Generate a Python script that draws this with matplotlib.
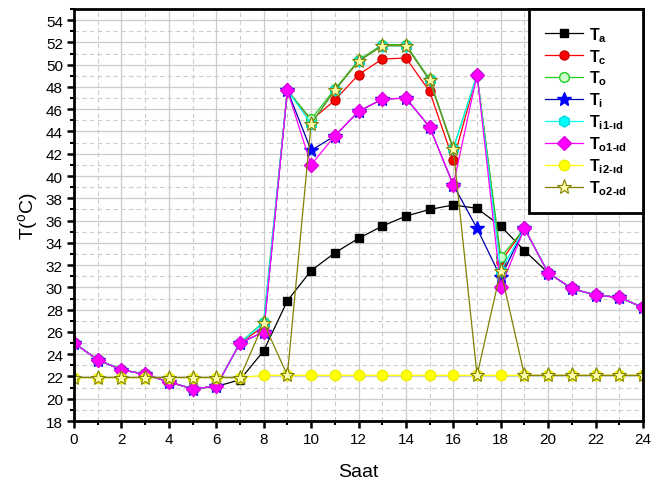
import matplotlib
matplotlib.use("Agg")
import matplotlib.pyplot as plt
from matplotlib.ticker import MultipleLocator

plt.rcParams['font.family'] = ['Liberation Sans', 'DejaVu Sans']
plt.rcParams['mathtext.default'] = 'regular'

hours = list(range(25))

T_a   = [25.0, 23.5, 22.6, 22.2, 21.5, 20.9, 21.1, 21.7, 24.3, 28.8, 31.5, 33.1, 34.4, 35.5, 36.4, 37.0, 37.4, 37.1, 35.5, 33.3, 31.3, 29.9, 29.3, 29.1, 28.2]
T_c   = [25.0, 23.5, 22.6, 22.2, 21.5, 20.9, 21.1, 25.0, 26.5, 47.7, 45.0, 46.8, 49.1, 50.5, 50.6, 47.6, 41.4, 49.1, 32.3, 35.3, 31.3, 29.9, 29.3, 29.1, 28.2]
T_o   = [25.0, 23.5, 22.6, 22.2, 21.5, 20.9, 21.1, 25.0, 26.9, 47.7, 45.1, 47.8, 50.4, 51.8, 51.8, 48.7, 42.5, 49.1, 32.7, 35.3, 31.3, 29.9, 29.3, 29.1, 28.2]
T_i   = [25.0, 23.5, 22.6, 22.2, 21.5, 20.9, 21.1, 25.0, 26.0, 47.7, 42.3, 43.6, 45.8, 46.9, 47.0, 44.4, 39.2, 35.3, 30.9, 35.3, 31.3, 29.9, 29.3, 29.1, 28.2]
T_i1  = [25.0, 23.5, 22.6, 22.2, 21.5, 20.9, 21.1, 25.0, 26.8, 47.7, 44.7, 47.7, 50.3, 51.7, 51.7, 48.6, 42.4, 49.1, 31.5, 35.3, 31.3, 29.9, 29.3, 29.1, 28.2]
T_o1  = [25.0, 23.5, 22.6, 22.2, 21.5, 20.9, 21.1, 25.0, 26.0, 47.7, 41.0, 43.6, 45.8, 46.9, 47.0, 44.4, 39.2, 49.1, 30.0, 35.3, 31.3, 29.9, 29.3, 29.1, 28.2]
T_i2  = [21.9, 21.9, 21.9, 21.9, 21.9, 21.9, 21.9, 21.9, 22.1, 22.1, 22.1, 22.1, 22.1, 22.1, 22.1, 22.1, 22.1, 22.1, 22.1, 22.1, 22.1, 22.1, 22.1, 22.1, 22.1]
T_o2  = [21.9, 21.9, 21.9, 21.9, 21.9, 21.9, 21.9, 21.9, 26.8, 22.1, 44.7, 47.7, 50.3, 51.7, 51.7, 48.6, 42.4, 22.1, 31.5, 22.1, 22.1, 22.1, 22.1, 22.1, 22.1]

labels = ['T$_{a}$', 'T$_{c}$', 'T$_{o}$', 'T$_{i}$',
          'T$_{i1\u2010ıd}$', 'T$_{o1\u2010ıd}$', 'T$_{i2\u2010ıd}$', 'T$_{o2\u2010ıd}$']

fig = plt.figure(figsize=(6.61, 4.81), dpi=100)
ax = fig.add_axes([74/661, 1-422/481, (643-74)/661, (422-10)/481])

lw = 0.9
styles = [
    (T_a,  dict(color='black', marker='s', ms=6, mfc='black', mec='black')),
    (T_c,  dict(color='red', marker='o', ms=6.5, mfc='red', mec='#cc0000')),
    (T_o,  dict(color='#22cc22', marker='o', ms=7, mfc='#ccffcc', mec='#22cc22')),
    (T_i,  dict(color='#0000aa', marker='*', ms=10, mfc='#0000ff', mec='#0000ff')),
    (T_i1, dict(color='cyan', marker='h', ms=8, mfc='cyan', mec='#00dddd')),
    (T_o1, dict(color='#ff00ff', marker='D', ms=7.5, mfc='#ff00ff', mec='#dd00dd')),
    (T_i2, dict(color='#ffff00', marker='o', ms=7.5, mfc='#ffff00', mec='#eeee00')),
    (T_o2, dict(color='#808000', marker='*', ms=11, mfc='#ffffaa', mec='#808000', mew=0.8)),
]
for (vals, st), lab in zip(styles, labels):
    ax.plot(hours, vals, lw=lw, label=lab, **st)

ax.set_xlim(0, 24)
ax.set_ylim(18, 55)
ax.xaxis.set_major_locator(MultipleLocator(2))
ax.xaxis.set_minor_locator(MultipleLocator(1))
ax.yaxis.set_minor_locator(MultipleLocator(1))
ax.set_yticks(list(range(18, 55, 2)))

ax.grid(which='major', color='#cccccc', lw=0.9, ls='-')
ax.grid(which='minor', color='#cccccc', lw=0.8, ls=(0, (4, 3)))
ax.set_axisbelow(True)

for s in ax.spines.values():
    s.set_linewidth(2.0)
ax.tick_params(which='major', direction='out', length=5, width=1.8, labelsize=11, pad=3)
ax.tick_params(which='minor', direction='out', length=3, width=1.5)

ax.set_xlabel('Saat', fontsize=14, labelpad=12)
ax.set_ylabel('T($^{o}$C)', fontsize=14, labelpad=4)

leg = ax.legend(loc='upper right', bbox_to_anchor=(1.0, 1.0), frameon=True, fancybox=False,
                edgecolor='black', framealpha=1, borderaxespad=0,
                prop={'size': 11.5, 'weight': 'bold'}, handlelength=2.4, labelspacing=0.2,
                borderpad=1.0, handletextpad=0.35)
leg.get_frame().set_linewidth(2.0)

fig.savefig('out.png', dpi=100)
